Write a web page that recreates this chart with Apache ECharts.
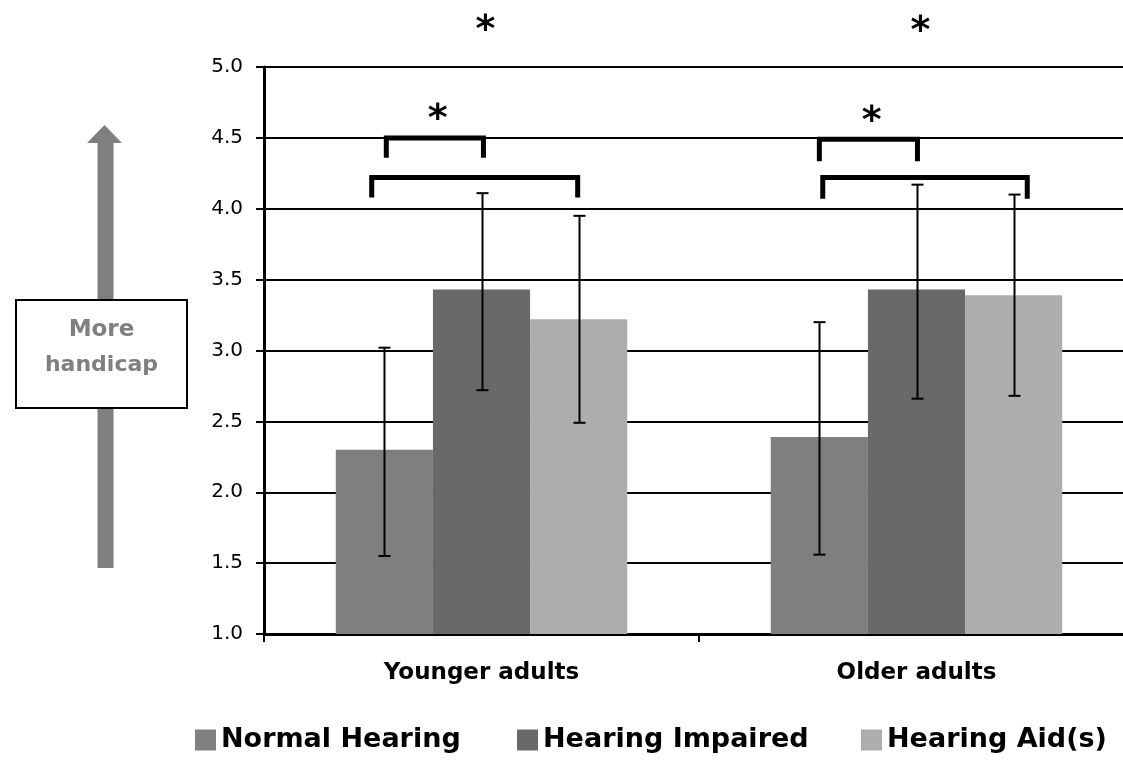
<!DOCTYPE html>
<html>
<head>
<meta charset="utf-8">
<script src="https://cdn.jsdelivr.net/npm/echarts@6/dist/echarts.min.js"></script>
<style>
  html, body { margin: 0; padding: 0; background: #fff; overflow: hidden; }
  #chart { width: 1123px; height: 762px; }
</style>
</head>
<body>
<div id="chart"></div>
<script>
// Groups and conditions
const categories = ['Younger adults', 'Older adults'];
const seriesNames = ['Normal Hearing', 'Hearing Impaired', 'Hearing Aid(s)'];

// Mean handicap score per group
const normalHearing = [2.30, 2.39];
const hearingImpaired = [3.43, 3.43];
const hearingAids = [3.22, 3.39];

// Error bar ends (low, high) per group
const normalLow = [1.55, 1.56];
const normalHigh = [3.02, 3.20];
const impairedLow = [2.72, 2.66];
const impairedHigh = [4.11, 4.17];
const aidsLow = [2.49, 2.68];
const aidsHigh = [3.95, 4.10];

// Value axis range
const yMin = 1.0;
const yMax = 5.0;
const yStep = 0.5;

// Significance brackets: [group, bar y, leg end y, left slot, right slot]
const brackets = [
  [0, 4.50, 4.36, -0.98, 0.02],
  [0, 4.22, 4.08, -1.13, 0.99],
  [1, 4.49, 4.335, -1.00, 0.01],
  [1, 4.22, 4.07, -0.965, 1.14]
];
// Asterisks: [group, y, slot offset]
const stars = [
  [0, 5.31, 0.04],
  [0, 4.68, -0.45],
  [1, 5.30, 0.04],
  [1, 4.67, -0.46]
];

const colors = ['#7f7f7f', '#696969', '#adadad'];
const GAP = 0.33;
const values = [normalHearing, hearingImpaired, hearingAids];
const lows = [normalLow, impairedLow, aidsLow];
const highs = [normalHigh, impairedHigh, aidsHigh];

const chart = echarts.init(document.getElementById('chart'));

function slotWidth(api) {
  return api.size([1, 0])[0] * (1 - GAP) / 3;
}

const barSeries = seriesNames.map((name, k) => ({
  name: name,
  type: 'bar',
  data: values[k],
  barGap: '0%',
  barCategoryGap: (GAP * 100) + '%',
  itemStyle: { color: colors[k] },
  z: 2
}));

const errorSeries = seriesNames.map((name, k) => ({
  type: 'custom',
  silent: true,
  z: 3,
  data: categories.map((c, i) => [i, lows[k][i], highs[k][i]]),
  encode: { x: 0, y: [1, 2] },
  renderItem: function (params, api) {
    const cat = api.value(0);
    const lo = api.coord([cat, api.value(1)]);
    const hi = api.coord([cat, api.value(2)]);
    const w = slotWidth(api);
    const x = Math.round(lo[0] + (k - 1) * w) + 0.5;
    const cap = 6;
    const st = { stroke: '#000', lineWidth: 2 };
    return {
      type: 'group',
      children: [
        { type: 'line', shape: { x1: x, y1: lo[1], x2: x, y2: hi[1] }, style: st },
        { type: 'line', shape: { x1: x - cap, y1: lo[1], x2: x + cap, y2: lo[1] }, style: st },
        { type: 'line', shape: { x1: x - cap, y1: hi[1], x2: x + cap, y2: hi[1] }, style: st }
      ]
    };
  }
}));

const bracketSeries = {
  type: 'custom',
  silent: true,
  clip: false,
  z: 4,
  data: brackets,
  encode: { x: 0, y: [1, 2] },
  renderItem: function (params, api) {
    const cat = api.value(0);
    const top = api.coord([cat, api.value(1)]);
    const bot = api.coord([cat, api.value(2)]);
    const w = slotWidth(api);
    const xl = top[0] + api.value(3) * w;
    const xr = top[0] + api.value(4) * w;
    return {
      type: 'polyline',
      shape: { points: [[xl, bot[1]], [xl, top[1]], [xr, top[1]], [xr, bot[1]]] },
      style: { stroke: '#000', lineWidth: 5, fill: null, lineJoin: 'miter', lineCap: 'butt' }
    };
  }
};

const starSeries = {
  type: 'custom',
  silent: true,
  clip: false,
  z: 4,
  data: stars,
  encode: { x: 0, y: 1 },
  renderItem: function (params, api) {
    const cat = api.value(0);
    const p = api.coord([cat, api.value(1)]);
    const w = slotWidth(api);
    return {
      type: 'text',
      style: {
        x: p[0] + api.value(2) * w,
        y: p[1] + 8,
        text: '*',
        fill: '#000',
        font: 'bold 38px "DejaVu Sans"',
        align: 'center',
        verticalAlign: 'middle'
      }
    };
  }
};

const legendCommon = {
  orient: 'horizontal',
  top: 718,
  itemWidth: 21,
  itemHeight: 21,
  icon: 'rect',
  selectedMode: false,
  textStyle: {
    fontFamily: 'DejaVu Sans',
    fontWeight: 'bold',
    fontSize: 27,
    lineHeight: 34,
    color: '#000'
  }
};

const option = {
  animation: false,
  backgroundColor: '#fff',
  grid: { left: 264, right: -11, top: 67, bottom: 128, outerBoundsMode: 'none', containLabel: false },
  legend: [
    Object.assign({ left: 190, data: [seriesNames[0]] }, legendCommon),
    Object.assign({ left: 512, data: [seriesNames[1]] }, legendCommon),
    Object.assign({ left: 856, data: [seriesNames[2]] }, legendCommon)
  ],
  xAxis: {
    type: 'category',
    data: categories,
    axisLine: { lineStyle: { color: '#000', width: 3 } },
    axisTick: { show: true, length: 8, lineStyle: { color: '#000', width: 2 } },
    axisLabel: {
      margin: 28,
      color: '#000',
      fontFamily: 'DejaVu Sans',
      fontWeight: 'bold',
      fontSize: 23
    },
    splitLine: { show: false }
  },
  yAxis: {
    type: 'value',
    min: yMin,
    max: yMax,
    interval: yStep,
    axisLine: { show: true, lineStyle: { color: '#000', width: 3 } },
    axisTick: { show: true, length: 8, lineStyle: { color: '#000', width: 2 } },
    axisLabel: {
      margin: 21,
      color: '#000',
      fontFamily: 'DejaVu Sans',
      fontSize: 20,
      formatter: v => v.toFixed(1)
    },
    splitLine: { show: true, lineStyle: { color: '#000', width: 2 } }
  },
  series: barSeries.concat(errorSeries, [bracketSeries, starSeries]),
  graphic: [
    // upward arrow behind the note box
    { type: 'rect', shape: { x: 97.5, y: 142, width: 16, height: 426 }, style: { fill: '#7f7f7f' }, z: 1 },
    { type: 'polygon', shape: { points: [[87, 143], [122, 143], [104.5, 125]] }, style: { fill: '#7f7f7f' }, z: 1 },
    { type: 'rect', shape: { x: 16, y: 300, width: 171, height: 108 }, style: { fill: '#fff', stroke: '#000', lineWidth: 2 }, z: 2 },
    { type: 'text', style: { x: 101.5, y: 330, text: 'More', align: 'center', verticalAlign: 'middle', fill: '#7f7f7f', font: 'bold 23px "DejaVu Sans"' }, z: 3 },
    { type: 'text', style: { x: 101.5, y: 365, text: 'handicap', align: 'center', verticalAlign: 'middle', fill: '#7f7f7f', font: 'bold 22px "DejaVu Sans"' }, z: 3 }
  ]
};

chart.setOption(option);
</script>
</body>
</html>
